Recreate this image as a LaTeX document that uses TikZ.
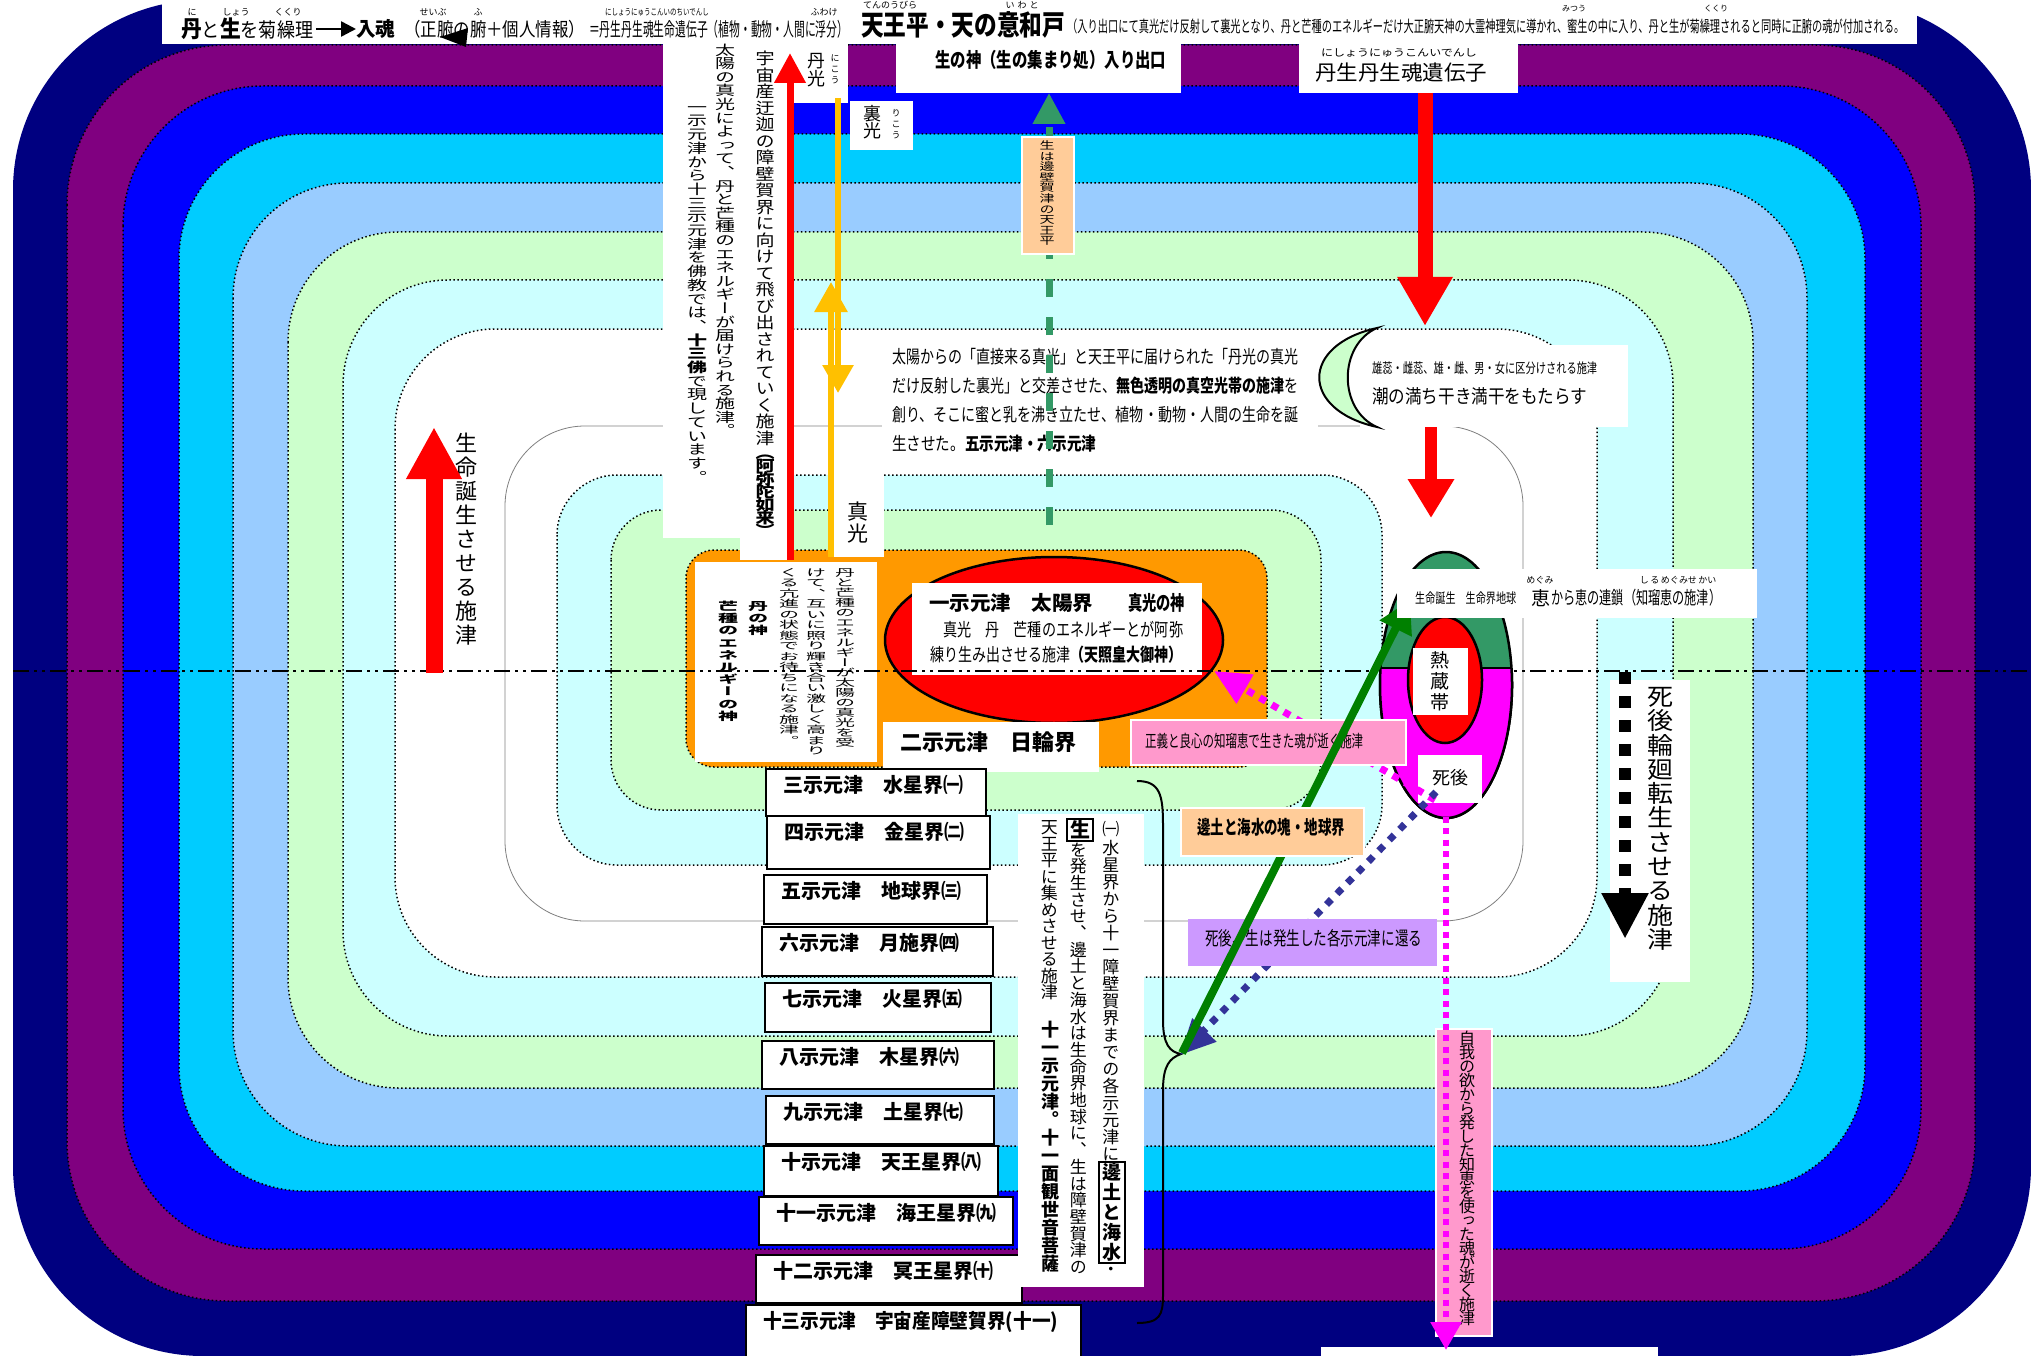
\documentclass[tikz,border=0pt]{standalone}
\usepackage{fontspec}
\setmainfont{Noto Sans CJK JP}
\newfontfamily\vfont[RawFeature=+vert]{Noto Sans CJK JP}
\usetikzlibrary{arrows.meta,calc}

\definecolor{navyband}{HTML}{000080}
\definecolor{purpleband}{HTML}{800080}
\definecolor{blueband}{HTML}{0000FF}
\definecolor{cyanband}{HTML}{00CCFF}
\definecolor{skyband}{HTML}{99CCFF}
\definecolor{greenband}{HTML}{CCFFCC}
\definecolor{iceband}{HTML}{CCFFFF}
\definecolor{sunorange}{HTML}{FF9900}
\definecolor{peach}{HTML}{FFCC99}
\definecolor{rosepink}{HTML}{FF99CC}
\definecolor{lilac}{HTML}{CC99FF}
\definecolor{seagreen}{HTML}{339966}
\definecolor{leafgreen}{HTML}{008000}
\definecolor{indigo}{HTML}{333399}
\definecolor{gold}{HTML}{FFC000}
\definecolor{fuchsia}{HTML}{FF00FF}
\definecolor{sunred}{HTML}{FF0000}

\newcommand\fs[1]{\fontsize{#1}{#1}\selectfont}
\newcommand\fitw[2]{\resizebox{#1pt}{\height}{#2}}
\makeatletter
\newcommand\vchars[3][1]{\@tfor\vc:=#3\do{\vbox to #2pt{\vss\hbox to 1.1em{\hss\scalebox{1}[#1]{\vrule height.88em depth.12em width0pt\vc}\hss}\vss}}}
\makeatother
\newcommand\vcol[1]{\vbox{\offinterlineskip\vfont #1}}
\newcommand\panel[6]{\node[#1, anchor=north west, minimum width={(#5-#3)*1pt}, minimum height={(#6-#4)*1pt}] (#2) at (#3,#4) {};}

\begin{document}
\begin{tikzpicture}[x=1pt, y=-1pt,
  band/.style={draw=black, line width=1.5pt, dash pattern=on 1.5pt off 2.5pt},
  wbox/.style={fill=white, draw=none, inner sep=0pt, outer sep=0pt},
  lvlbox/.style={fill=white, draw=black, line width=2pt, inner sep=0pt},
  peachbox/.style={fill=peach, draw=white, line width=2pt, inner sep=0pt},
  rosebox/.style={fill=rosepink, draw=white, line width=2pt, inner sep=0pt},
  lilacbox/.style={fill=lilac, draw=none, inner sep=0pt},
  txt/.style={inner sep=0pt, anchor=west},
  vtxt/.style={inner sep=0pt, anchor=north},
  ruby/.style={inner sep=0pt, font=\fs{9}},
  tipped/.style={-{Triangle[length=#1pt, width=#1pt]}},
  axis/.style={line width=2pt, dash pattern=on 16pt off 5pt on 3pt off 5pt on 3pt off 5pt},
  squares/.style={line width=12pt, dash pattern=on 12pt off 12pt}
  ]
\useasboundingbox (0,0) rectangle (2031,1356);
\fill[white] (0,0) rectangle (2031,1356);

% nested bands
\fill[navyband, rounded corners=190pt] (13,0) rectangle (2031,1356);
\foreach \col/\xa/\ya/\xb/\yb/\rad in {purpleband/67/45/1975/1301/160, blueband/123/86/1921/1249/140,
  cyanband/179/134/1865/1191/125, skyband/233/183/1807/1146/115, greenband/288/232/1753/1088/110,
  iceband/343/280/1673/1036/105, white/395/329/1597/977/100}
  \filldraw[band, fill=\col, rounded corners=\rad pt] (\xa,\ya) rectangle (\xb,\yb);
\filldraw[draw=gray, line width=0.8pt, fill=white, rounded corners=80pt] (505,426) rectangle (1523,921);
\filldraw[band, fill=iceband, rounded corners=60pt] (557,475) rectangle (1382,865);
\filldraw[band, fill=greenband, rounded corners=50pt] (611,510) rectangle (1321,810);
\filldraw[band, fill=sunorange, rounded corners=28pt] (686,550) rectangle (1267,767);
\filldraw[fill=sunred, draw=black, line width=2.5pt] (1054,640) ellipse [x radius=169pt, y radius=83pt];

% top bar
\panel{wbox}{topbar}{162}{0}{1917}{44}
\node[txt] (tA) at (181,29) {\fitw{132}{\fs{20}{\bfseries\fs{23}丹}と{\bfseries\fs{23}生}を菊繰理}};
\node[txt] (tB) at (356,29) {\fitw{39}{\fs{20}\bfseries 入魂}};
\draw[line width=2.5pt, tipped=15] ([xshift=3pt]tA.east) -- (tB.west);
\node[txt] (tC) at (404,29) {\fitw{181}{\fs{19}（正腑の腑＋個人情報）}};
\node[txt] (tD) at (589,29) {\fitw{259}{\fs{19}＝丹生丹生魂生命遺伝子（植物・動物・人間に浮分）}};
\fill (440,37) -- (468,28) -- (466,47) -- cycle;
\node[ruby] (rA1) at (192,12) {に};
\node[ruby] (rA2) at (236,12) {しょう};
\node[ruby] (rA3) at (288,12) {くくり};
\node[ruby] (rC1) at (433,12) {せいぶ};
\node[ruby] (rC2) at (478,12) {ふ};
\node[ruby] (rD1) at (657,12) {\fitw{104}{にしょうにゅうこんいのちいでんし}};
\node[ruby] (rD2) at (824,12) {ふわけ};
\node[txt] (tE) at (861,25) {\fitw{204}{\fs{28}\bfseries 天王平・天の意和戸}};
\node[txt] (tF) at (1067,26) {\fitw{837}{\fs{16}（入り出口にて真光だけ反射して裏光となり、丹と芒種のエネルギーだけ大正腑天神の大霊神理気に導かれ、蜜生の中に入り、丹と生が菊繰理されると同時に正腑の魂が付加される。}};
\node[ruby] (rE1) at (890,5) {てんのうびら};
\node[ruby] (rE2) at (1022,5) {い\,\,わ\,\,と};
\node[ruby, font=\fs{8}] (rF1) at (1574,9) {みつう};
\node[ruby, font=\fs{8}] (rF2) at (1716,9) {くくり};

% boxes under the bar
\panel{wbox}{gateBox}{896}{40}{1181}{93}
\node[txt] (gateT) at (935,60) {\fitw{231}{\fs{20}\bfseries 生の神（生の集まり処）入り出口}};
\panel{wbox}{geneBox}{1299}{40}{1518}{93}
\node[txt] (geneT) at (1315,73) {\fitw{172}{\fs{21}丹生丹生魂遺伝子}};
\node[ruby, font=\fs{10}] (geneR) at (1399,53) {\fitw{156}{にしょうにゅうこんいでんし}};

% left columns
\panel{wbox}{colA}{663}{40}{760}{538}
\panel{wbox}{colB}{740}{40}{792}{560}
\panel{wbox}{nikoBox}{792}{40}{848}{103}
\panel{wbox}{rikoBox}{850}{101}{913}{150}
\panel{wbox}{shinBox}{834}{470}{884}{557}
\panel{wbox}{birthBox}{447}{427}{486}{673}
\node[vtxt] (vSun) at (725,43) {\fs{20}\vcol{\vchars[0.68]{13.6}{太陽の真光によって、丹と芒種のエネルギーが届けられる施津。}}};
\node[vtxt] (vBud) at (697,100) {\fs{20}\vcol{\vchars[0.68]{13.7}{一示元津から十三示元津を佛教では、}\bfseries\vchars[0.68]{13.7}{十三佛}\mdseries\vchars[0.68]{13.7}{で現しています。}}};
\node[vtxt] (vUchu) at (765,50) {\fs{19}\vcol{\vchars[0.85]{16.5}{宇宙産迂迦の障壁賀界に向けて飛び出されていく施津}\bfseries\vchars[0.8]{13}{（阿弥陀如来）}}};
\node[vtxt] (vNiko) at (816,51) {\fs{18}\vcol{\vchars{18}{丹光}}};
\node[vtxt] (vNikoR) at (835,52) {\fs{9}\vcol{\vchars{11}{にこう}}};
\node[vtxt] (vRiko) at (872,105) {\fs{18}\vcol{\vchars{17}{裏光}}};
\node[vtxt] (vRikoR) at (896,107) {\fs{9}\vcol{\vchars{11}{りこう}}};
\node[vtxt] (vShin) at (858,500) {\fs{21}\vcol{\vchars{22}{真光}}};
\node[vtxt] (vBirth) at (466,431) {\fs{22}\vcol{\vchars{24}{生命誕生させる施津}}};

% central text
\panel{wbox}{mainBox}{882}{335}{1318}{462}
\node[txt] (mL1) at (892,357) {\fitw{406}{\fs{18}太陽からの「直接来る真光」と天王平に届けられた「丹光の真光}};
\node[txt] (mL2) at (892,386) {\fitw{406}{\fs{18}だけ反射した裏光」と交差させた、{\bfseries 無色透明の真空光帯の施津}を}};
\node[txt] (mL3) at (892,415) {\fitw{406}{\fs{18}創り、そこに蜜と乳を沸き立たせ、植物・動物・人間の生命を誕}};
\node[txt] (mL4) at (892,444) {\fitw{204}{\fs{18}生させた。{\bfseries 五示元津・六示元津}}};

% orange panel
\panel{wbox}{danBox}{695}{562}{877}{762}
\node[vtxt] (vDan1) at (845,567) {\fs{20}\vcol{\vchars[0.5]{10}{丹と芒種のエネルギーが太陽の真光を受}}};
\node[vtxt] (vDan2) at (816,567) {\fs{20}\vcol{\vchars[0.5]{10.5}{けて、互いに照り輝き合い激しく高まり}}};
\node[vtxt] (vDan3) at (789,567) {\fs{20}\vcol{\vchars[0.5]{10.5}{くる亢進の状態でお待ちになる施津。}}};
\node[vtxt] (vDanGod) at (758,600) {\fs{20}\vcol{\bfseries\vchars[0.55]{12}{丹の神}}};
\node[vtxt] (vBoshu) at (728,600) {\fs{20}\vcol{\bfseries\vchars[0.55]{12.2}{芒種のエネルギーの神}}};
\panel{wbox}{sunBox}{912}{583}{1202}{675}
\node[txt] (sunT1) at (929,603) {\fitw{164}{\fs{20}\bfseries 一示元津　太陽界}};
\node[txt] (sunT1b) at (1128,603) {\fitw{57}{\fs{20}\bfseries 真光の神}};
\node[txt] (sunT2) at (943,630) {\fitw{240}{\fs{18}真光　丹　芒種のエネルギーとが阿弥}};
\node[txt] (sunT3) at (930,655) {\fitw{252}{\fs{18}練り生み出させる施津{\bfseries（天照皇大御神）}}};
\panel{wbox}{nichiBox}{883}{722}{1099}{772}
\node[txt] (nichiT) at (900,742) {\fitw{176}{\fs{22}\bfseries 二示元津　日輪界}};

% level list
\foreach \n/\xa/\ya/\xb/\yb/\lbl in {
  1/765/768/985/815/三示元津　水星界㈠, 2/766/815/989/868/四示元津　金星界㈡,
  3/763/874/986/923/五示元津　地球界㈢, 4/761/926/992/975/六示元津　月施界㈣,
  5/764/982/990/1031/七示元津　火星界㈤, 6/761/1040/993/1088/八示元津　木星界㈥,
  7/765/1095/993/1143/九示元津　土星界㈦, 8/763/1145/997/1195/十示元津　天王星界㈧,
  9/758/1196/1012/1244/十一示元津　海王星界㈨, 10/755/1254/1021/1302/十二示元津　冥王星界㈩}
{
  \node[lvlbox, anchor=north west, minimum width={(\xb-\xa)*1pt}, minimum height={(\yb-\ya)*1pt}] (lvl\n) at (\xa,\ya) {};
  \node[txt] (lvl\n txt) at ($(lvl\n.north west)+(18,17)$) {\fs{20}\bfseries\lbl};
}
\panel{lvlbox}{lvl11}{745}{1304}{1080}{1362}
\node[txt] (lvl11txt) at (763,1322) {\fitw{295}{\fs{20}\bfseries 十三示元津　宇宙産障壁賀界(十一)}};

% note with brace
\panel{wbox}{waterBox}{1018}{814}{1144}{1287}
\node[vtxt] (wc1) at (1112,819) {\fs{17}\vcol{\vchars{20}{㈠}\vchars{17}{水星界から十一障壁賀界までの各示元津に}\bfseries\fs{19}\vchars{20}{邊土と海水}\mdseries\fs{17}\vchars{14}{・}}};
\node[vtxt] (wc2) at (1080,819) {\fs{17}\vcol{\bfseries\fs{20}\vchars{22}{生}\mdseries\fs{17}\vchars{16.7}{を発生させ、邊土と海水は生命界地球に、生は障壁賀津の}}};
\node[vtxt] (wc3) at (1050,819) {\fs{17}\vcol{\vchars{16.5}{天王平に集めさせる施津}\vskip20pt\bfseries\fs{18}\vchars{18}{十一示元津。十一面観世音菩薩}}};
\draw[line width=2pt] (1099,1162) rectangle (1125,1263);
\draw[line width=2pt] (1067,819) rectangle (1093,841);
\draw[line width=2pt] (1137,781) .. controls (1160,781) and (1163,795) .. (1163,825) -- (1163,1020)
  .. controls (1163,1045) and (1170,1052) .. (1181,1054) .. controls (1170,1058) and (1163,1065) .. (1163,1090)
  -- (1163,1295) .. controls (1163,1315) and (1160,1323) .. (1137,1323);

% right column boxes
\panel{wbox}{moonBox}{1360}{345}{1628}{427}
\node[txt] (moonT1) at (1372,368) {\fitw{225}{\fs{14}雄蕊・雌蕊、雄・雌、男・女に区分けされる施津}};
\node[txt] (moonT2) at (1372,396) {\fitw{215}{\fs{19}潮の満ち干き満干をもたらす}};
\panel{wbox}{deathBox}{1610}{680}{1690}{982}
\node[vtxt] (deathT) at (1660,684) {\fs{26}\vcol{\vchars[0.92]{24.3}{死後輪廻転生させる施津}}};
\panel{wbox}{footBox}{1321}{1347}{1658}{1356}
\panel{rosebox}{egoBox}{1435}{1028}{1491}{1335}
\node[vtxt] (egoT) at (1467,1031) {\fs{16}\vcol{\vchars{14}{自我の欲から発した知恵を使った魂が逝く施津}}};

% axis line
\coordinate (axisL) at (13,671);
\coordinate (axisR) at (2031,671);
\draw[axis] (axisL) -- (axisR);

% arrows on the left
\coordinate (birthFoot) at (434,673);
\coordinate (birthTop) at (434,427);
\draw[sunred, line width=17pt, tipped=52] (birthFoot) -- (birthTop);
\coordinate (uchuFoot) at (790,560);
\coordinate (uchuTop) at (790,53);
\draw[sunred, line width=7pt, tipped=30] (uchuFoot) -- (uchuTop);
\coordinate (goldA) at (838,98);
\coordinate (goldB) at (838,393);
\draw[gold, line width=6pt, -{Triangle[length=28pt, width=30pt]}] (goldA) -- (goldB);
\coordinate (goldC) at (831,557);
\coordinate (goldD) at (831,282);
\draw[gold, line width=6pt, -{Triangle[length=30pt, width=32pt]}] (goldC) -- (goldD);

% gate arrow
\coordinate (gateFoot) at (1049,525);
\draw[seagreen, line width=7pt, dash pattern=on 18pt off 20pt, -{Triangle[length=31pt, width=31pt]}] (gateFoot) -- (gateBox.south -| gateFoot);
\panel{peachbox}{tenBox}{1021}{136}{1073}{253}
\node[vtxt] (tenT) at (1047,140) {\fs{15}\vcol{\vchars[0.7]{10.6}{生は邊壁賀津の天王平}}};

% moon
\filldraw[fill=greenband, draw=black, line width=2pt] (1377,328) .. controls (1300,345) and (1300,410) .. (1377,427)
  .. controls (1338,410) and (1338,345) .. (1377,328) -- cycle;
\coordinate (geneOut) at (1425,93);
\coordinate (moonIn) at (1425,326);
\draw[sunred, line width=15pt, -{Triangle[length=49pt, width=52pt]}] (geneOut) -- (moonIn);
\coordinate (moonOut) at (1431,427);
\coordinate (eggIn) at (1431,518);
\draw[sunred, line width=12pt, -{Triangle[length=39pt, width=44pt]}] (moonOut) -- (eggIn);

% egg of life
\filldraw[fill=seagreen, draw=black, line width=2.5pt] (1446,685) ellipse [x radius=66pt, y radius=133pt];
\begin{scope}
  \clip (1370,668) rectangle (1530,830);
  \filldraw[fill=fuchsia, draw=black, line width=2.5pt] (1446,685) ellipse [x radius=66pt, y radius=133pt];
\end{scope}
\draw[line width=2.5pt] (1381,668) -- (1512,668);
\filldraw[fill=sunred, draw=black, line width=2.5pt] (1445,680) ellipse [x radius=37pt, y radius=63pt];
\panel{wbox}{heatBox}{1413}{648}{1468}{715}
\node[vtxt] (heatT) at (1440,650) {\fs{19}\vcol{\vchars{21}{熱蔵帯}}};
\panel{wbox}{afterBox}{1418}{755}{1482}{803}
\node[inner sep=0pt] (afterT) at (1450,778) {\fs{18}死後};

% soul paths
\coordinate (justFrom) at (1435,800);
\coordinate (justTo) at (1214,671);
\draw[fuchsia, line width=7pt, dash pattern=on 7pt off 7pt, -{Triangle[length=36pt, width=32pt]}] (justFrom) -- (justTo);
\panel{rosebox}{justBox}{1130}{719}{1405}{764}
\node[txt] (justT) at (1145,741) {\fitw{218}{\fs{17}正義と良心の知瑠恵で生きた魂が逝く施津}};
\coordinate (backFrom) at (1436,792);
\coordinate (backTo) at (1180,1055);
\draw[indigo, line width=7pt, dash pattern=on 7pt off 8pt, -{Triangle[length=35pt, width=32pt]}] (backFrom) -- (backTo);
\panel{lilacbox}{returnBox}{1188}{919}{1437}{966}
\node[txt] (returnT) at (1205,938) {\fitw{217}{\fs{19}死後、生は発生した各示元津に還る}};
\coordinate (riseFrom) at (1182,1053);
\coordinate (riseTo) at (1410,600);
\draw[leafgreen, line width=8pt, -{Triangle[length=32pt, width=34pt]}] (riseFrom) -- (riseTo);
\panel{peachbox}{earthBox}{1180}{807}{1363}{855}
\node[txt] (earthT) at (1197,827) {\fitw{148}{\fs{19}\bfseries 邊土と海水の塊・地球界}};
\panel{wbox}{lifeBox}{1397}{569}{1757}{618}
\node[txt] (lifeT1) at (1415,598) {\fitw{101}{\fs{14}生命誕生　生命界地球}};
\node[txt] (lifeT2) at (1531,598) {\fs{19}恵};
\node[txt] (lifeT3) at (1551,598) {\fitw{170}{\fs{18}から恵の連鎖（知瑠恵の施津）}};
\node[ruby] (lifeR1) at (1540,580) {めぐみ};
\node[ruby] (lifeR2) at (1664,580) {し\,る\,めぐみ};
\node[ruby] (lifeR3) at (1702,580) {せ\,かい};
\coordinate (egoFrom) at (1446,805);
\coordinate (egoTo) at (1446,1350);
\draw[fuchsia, line width=6pt, dash pattern=on 6pt off 5.5pt, -{Triangle[length=28pt, width=30pt]}] (egoFrom) -- (egoTo);
\coordinate (deathFrom) at (1625,672);
\coordinate (deathTo) at (1625,939);
\draw[squares, -{Triangle[length=46pt, width=44pt]}] (deathFrom) -- (deathTo);
\end{tikzpicture}
\end{document}
